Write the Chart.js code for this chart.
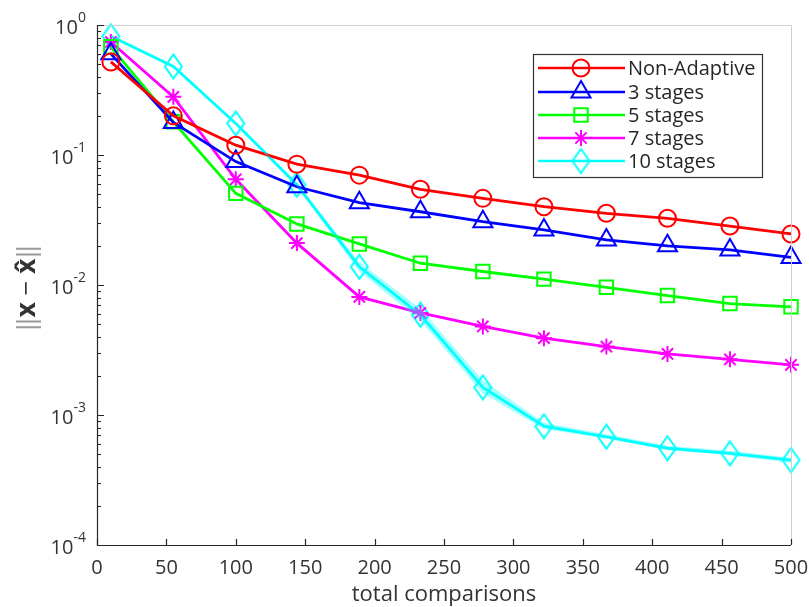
<!DOCTYPE html>
<html>
<head>
<meta charset="utf-8">
<script src="https://cdn.jsdelivr.net/npm/chart.js@4.4.0/dist/chart.umd.min.js"></script>
<style>
	html, body { margin:0; padding:0; background:#fff; }
</style>
</head>
<body>
<canvas id="errChart" width="809" height="607"></canvas>
<script>
// data
var comparisons = [10, 55, 100, 144, 189, 233, 278, 322, 367, 411, 456, 500];
var nonAdaptive = [0.52, 0.20, 0.119, 0.085, 0.070, 0.0545, 0.0464, 0.040, 0.0356, 0.0326, 0.0284, 0.0247];
var stages3 = [0.60, 0.178, 0.089, 0.057, 0.043, 0.0366, 0.0307, 0.0265, 0.0222, 0.020, 0.0186, 0.0163];
var stages5 = [0.68, 0.18, 0.0507, 0.0295, 0.0207, 0.0147, 0.0127, 0.0111, 0.0096, 0.0083, 0.0072, 0.0068];
var stages7 = [0.74, 0.28, 0.065, 0.021, 0.0081, 0.0061, 0.0048, 0.0039, 0.00336, 0.00295, 0.00268, 0.00243];
var stages10 = [0.82, 0.48, 0.175, 0.059, 0.0138, 0.0059, 0.00163, 0.00082, 0.00068, 0.000555, 0.000507, 0.00045];
// faint spread band around the 10 stage curve
var stages10Upper = [0.83, 0.49, 0.178, 0.061, 0.0150, 0.0066, 0.00185, 0.00087, 0.00071, 0.00058, 0.00053, 0.00047];
var stages10Lower = [0.81, 0.47, 0.172, 0.057, 0.0127, 0.0053, 0.00147, 0.00078, 0.00066, 0.00054, 0.00049, 0.00043];

var seriesNames = ['Non-Adaptive', '3 stages', '5 stages', '7 stages', '10 stages'];
var xTicks = [0, 50, 100, 150, 200, 250, 300, 350, 400, 450, 500];
var yDecades = [0, -1, -2, -3, -4];

var tickFont = "'Open Sans', 'Noto Sans', sans-serif";
var textFont = "'Open Sans', 'Noto Sans', sans-serif";

function diamondCanvas(color) {
	var c = document.createElement('canvas');
	c.width = 21;
	c.height = 27;
	var g = c.getContext('2d');
	g.strokeStyle = color;
	g.lineWidth = 2;
	g.beginPath();
	g.moveTo(10.5, 1.5);
	g.lineTo(19, 13.5);
	g.lineTo(10.5, 25.5);
	g.lineTo(2, 13.5);
	g.closePath();
	g.stroke();
	return c;
}

function toPoints(values) {
	return comparisons.map(function(c, i) { return {x: c, y: values[i]}; });
}

function lineSet(label, values, color, style, radius) {
	return {
		label: label,
		data: toPoints(values),
		borderColor: color,
		backgroundColor: color,
		borderWidth: 2.8,
		pointStyle: style,
		pointRadius: radius,
		pointBorderColor: color,
		pointBackgroundColor: 'rgba(0,0,0,0)',
		pointBorderWidth: 2,
		tension: 0,
		fill: false,
		clip: false
	};
}

var datasets = [
	{ label: 'band hi', data: toPoints(stages10Upper), borderWidth: 0, pointRadius: 0, fill: false, legendSkip: true },
	{ label: 'band lo', data: toPoints(stages10Lower), borderWidth: 0, pointRadius: 0, fill: '-1', backgroundColor: 'rgba(0,255,255,0.35)', legendSkip: true },
	lineSet(seriesNames[0], nonAdaptive, '#ff0000', 'circle', 8.5),
	lineSet(seriesNames[1], stages3, '#0000ff', 'triangle', 11),
	lineSet(seriesNames[2], stages5, '#00ff00', 'rect', 9.5),
	lineSet(seriesNames[3], stages7, '#ff00ff', 'star', 8),
	lineSet(seriesNames[4], stages10, '#00ffff', diamondCanvas('#00ffff'), 10)
];

var axesPlugin = {
	id: 'matlabAxes',
	afterDraw: function(chart) {
		var ctx = chart.ctx;
		var a = chart.chartArea;
		var xs = chart.scales.x;
		var ys = chart.scales.y;

		ctx.save();
		// light top / right box
		ctx.strokeStyle = '#d0d0d0';
		ctx.lineWidth = 1;
		ctx.beginPath();
		ctx.moveTo(a.left, a.top + 0.5);
		ctx.lineTo(a.right + 0.5, a.top + 0.5);
		ctx.lineTo(a.right + 0.5, a.bottom);
		ctx.stroke();

		// main axes
		ctx.strokeStyle = '#262626';
		ctx.lineWidth = 1.2;
		ctx.beginPath();
		ctx.moveTo(a.left + 0.5, a.top);
		ctx.lineTo(a.left + 0.5, a.bottom + 0.5);
		ctx.lineTo(a.right, a.bottom + 0.5);
		ctx.stroke();

		// x ticks, pointing in
		ctx.beginPath();
		xTicks.forEach(function(v) {
			var px = Math.round(xs.getPixelForValue(v)) + 0.5;
			ctx.moveTo(px, a.bottom);
			ctx.lineTo(px, a.bottom - 6);
		});
		ctx.stroke();

		// y ticks, majors and minors
		ctx.beginPath();
		yDecades.forEach(function(e) {
			for (var m = 1; m <= 9; m++) {
				var v = m * Math.pow(10, e);
				if (v > ys.max * 1.0001) break;
				var py = Math.round(ys.getPixelForValue(v)) + 0.5;
				var len = m == 1 ? 7 : 4;
				ctx.moveTo(a.left, py);
				ctx.lineTo(a.left + len, py);
			}
		});
		ctx.stroke();

		// y labels 10^e
		ctx.fillStyle = '#333333';
		ctx.textBaseline = 'middle';
		yDecades.forEach(function(e) {
			var py = ys.getPixelForValue(Math.pow(10, e));
			var right = a.left - 11;
			ctx.font = '14px ' + tickFont;
			var exp = String(e);
			var ew = ctx.measureText(exp).width;
			ctx.textAlign = 'left';
			ctx.fillText(exp, right - ew, py - 7);
			ctx.font = '20px ' + tickFont;
			ctx.textAlign = 'right';
			ctx.fillText('10', right - ew, py + 3);
		});

		// y title  ||x - x^||
		ctx.translate(28, (a.top + a.bottom) / 2 + 3);
		ctx.rotate(-Math.PI / 2);
		ctx.textBaseline = 'middle';
		var parts = [['\u2016', '#9a9a9a'], ['x', '#333'], [' \u2212 ', '#333'], ['x\u0302', '#333'], ['\u2016', '#9a9a9a']];
		var total = 0;
		parts.forEach(function(p) {
			ctx.font = (p[0].charAt(0) == 'x' ? 'bold ' : '') + '26px ' + textFont;
			p.push(ctx.measureText(p[0]).width);
			total += p[2];
		});
		var cx = -total / 2;
		ctx.textAlign = 'left';
		parts.forEach(function(p) {
			ctx.font = (p[0].charAt(0) == 'x' ? 'bold ' : '') + '26px ' + textFont;
			ctx.fillStyle = p[1];
			ctx.fillText(p[0], cx, 0);
			cx += p[2];
		});
		ctx.restore();

		// legend box
		ctx.save();
		var lx = 533, ly = 54, lw = 229, lh = 123;
		ctx.fillStyle = '#ffffff';
		ctx.fillRect(lx, ly, lw, lh);
		ctx.strokeStyle = '#333333';
		ctx.lineWidth = 1.2;
		ctx.strokeRect(lx + 0.5, ly + 0.5, lw, lh);
		var rows = [68, 92, 115, 138, 161];
		var shown = chart.data.datasets.filter(function(d) { return !d.legendSkip; });
		shown.forEach(function(d, i) {
			var y = rows[i];
			ctx.strokeStyle = d.borderColor;
			ctx.lineWidth = 2.5;
			ctx.beginPath();
			ctx.moveTo(538, y);
			ctx.lineTo(625, y);
			ctx.stroke();
			ctx.lineWidth = d.pointBorderWidth;
			ctx.fillStyle = 'rgba(0,0,0,0)';
			Chart.helpers.drawPoint(ctx, {pointStyle: d.pointStyle, radius: d.pointRadius, borderWidth: d.pointBorderWidth, rotation: 0}, 581, y);
			ctx.fillStyle = '#262626';
			ctx.font = '20px ' + textFont;
			ctx.textAlign = 'left';
			ctx.textBaseline = 'middle';
			ctx.fillText(d.label, 628, y + 1);
		});
		ctx.restore();
	}
};

var chart = new Chart(document.getElementById('errChart'), {
	type: 'line',
	data: { datasets: datasets },
	plugins: [axesPlugin],
	options: {
		responsive: false,
		animation: false,
		events: [],
		layout: { padding: { top: 25, right: 18, left: 0, bottom: 0 } },
		plugins: { legend: { display: false }, tooltip: { enabled: false } },
		scales: {
			x: {
				type: 'linear',
				min: 0,
				max: 500,
				afterBuildTicks: function(scale) {
					scale.ticks = xTicks.map(function(v) { return {value: v}; });
				},
				afterFit: function(scale) {
					scale.height = 62;
					scale.paddingLeft = 0;
					scale.paddingRight = 0;
				},
				grid: { display: false, drawTicks: false },
				border: { display: false },
				ticks: {
					color: '#333333',
					font: { family: tickFont, size: 20 },
					padding: 11,
					maxRotation: 0,
					autoSkip: false
				},
				title: {
					display: true,
					text: 'total comparisons',
					color: '#333333',
					font: { family: textFont, size: 22, lineHeight: 1 },
					padding: { top: 0, bottom: 1 }
				}
			},
			y: {
				type: 'logarithmic',
				min: 0.0001,
				max: 1,
				afterFit: function(scale) { scale.width = 97; },
				grid: { display: false, drawTicks: false },
				border: { display: false },
				ticks: { display: false }
			}
		}
	}
});
</script>
</body>
</html>
